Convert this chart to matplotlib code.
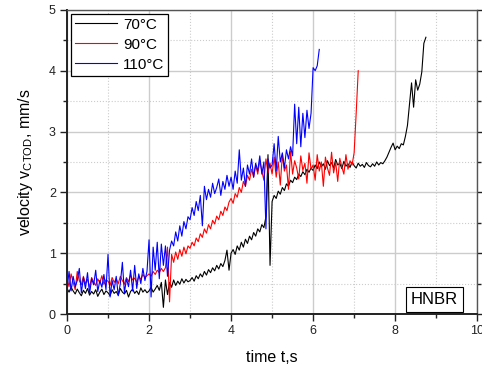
import numpy as np
import matplotlib
matplotlib.use("Agg")
import matplotlib.pyplot as plt
from matplotlib.ticker import MultipleLocator

plt.rcParams['font.family'] = ['Liberation Sans', 'DejaVu Sans']

# sampling step of the measurement, s
DT = 0.05

# 70°C, t = 0 .. 8.75 s
v70 = [
    0.42, 0.36, 0.44, 0.38, 0.33, 0.41, 0.35, 0.30, 0.39, 0.34, 0.42, 0.31, 0.37, 0.33, 0.40, 0.29, 0.36, 0.41, 0.32, 0.38,
    0.35, 0.30, 0.40, 0.34, 0.37, 0.31, 0.42, 0.36, 0.33, 0.39, 0.28, 0.37, 0.41, 0.34, 0.38, 0.32, 0.43, 0.36, 0.40, 0.35,
    0.38, 0.44, 0.36, 0.41, 0.47, 0.39, 0.52, 0.11, 0.56, 0.32, 0.52, 0.44, 0.56, 0.47, 0.54, 0.49, 0.58, 0.51, 0.57, 0.53,
    0.55, 0.60, 0.54, 0.63, 0.58, 0.66, 0.61, 0.70, 0.64, 0.73, 0.68, 0.76, 0.71, 0.80, 0.74, 0.83, 0.78, 0.88, 1.05, 0.72,
    1.00, 1.06, 0.98, 1.12, 1.05, 1.18, 1.10, 1.23, 1.16, 1.28, 1.22, 1.34, 1.28, 1.40, 1.35, 1.47, 1.42, 1.60, 2.62, 0.80,
    1.85, 1.95, 1.90, 2.02, 1.97, 2.08, 2.03, 2.14, 2.10, 2.20, 2.16, 2.25, 2.21, 2.30, 2.26, 2.34, 2.29, 2.38, 2.33, 2.40,
    2.36, 2.45, 2.39, 2.50, 2.42, 2.47, 2.38, 2.52, 2.44, 2.49, 2.40, 2.54, 2.45, 2.48, 2.39, 2.51, 2.43, 2.47, 2.41, 2.50,
    2.44, 2.40, 2.48, 2.43, 2.46, 2.41, 2.49, 2.44, 2.42, 2.47, 2.43, 2.50, 2.45, 2.49, 2.47, 2.52, 2.58, 2.66, 2.74, 2.81,
    2.70, 2.76, 2.72, 2.80, 2.78, 2.92, 3.10, 3.45, 3.80, 3.40, 3.85, 3.68, 3.78, 3.98, 4.45, 4.55,
]

# 90°C, t = 0 .. 7.10 s
v90 = [
    0.58, 0.45, 0.66, 0.52, 0.40, 0.70, 0.55, 0.48, 0.62, 0.50, 0.57, 0.44, 0.60, 0.53, 0.47, 0.58, 0.51, 0.63, 0.49, 0.56,
    0.54, 0.47, 0.60, 0.52, 0.58, 0.50, 0.62, 0.55, 0.49, 0.60, 0.53, 0.64, 0.56, 0.59, 0.52, 0.62, 0.57, 0.65, 0.60, 0.63,
    0.66, 0.62, 0.70, 0.65, 0.72, 0.68, 0.75, 0.70, 0.76, 1.10, 0.20, 0.98, 0.85, 1.02, 0.90, 1.06, 0.95, 1.10, 0.99, 1.12,
    1.08, 1.18, 1.12, 1.25, 1.19, 1.32, 1.26, 1.40, 1.33, 1.47, 1.40, 1.54, 1.48, 1.61, 1.55, 1.69, 1.62, 1.76, 1.70, 1.84,
    1.90, 1.82, 1.98, 1.92, 2.08, 2.00, 2.18, 2.10, 2.28, 2.20, 2.38, 2.25, 2.45, 2.30, 2.52, 2.35, 2.20, 2.55, 2.32, 2.48,
    2.30, 2.58, 2.25, 2.50, 2.12, 2.62, 2.35, 2.45, 2.05, 2.68, 2.30, 2.52, 2.40, 2.22, 2.60, 2.36, 2.48, 2.15, 2.65, 2.38,
    2.45, 2.20, 2.62, 2.35, 2.50, 2.10, 2.58, 2.40, 2.28, 2.66, 2.32, 2.50, 2.18, 2.56, 2.42, 2.30, 2.62, 2.38, 2.52, 2.45,
    2.65, 3.30, 4.00,
]

# 110°C, t = 0 .. 6.15 s
v110 = [
    0.40, 0.70, 0.38, 0.62, 0.45, 0.55, 0.75, 0.35, 0.60, 0.42, 0.68, 0.33, 0.58, 0.48, 0.72, 0.37, 0.55, 0.44, 0.65, 0.40,
    0.98, 0.28, 0.55, 0.40, 0.62, 0.30, 0.50, 0.85, 0.35, 0.58, 0.45, 0.72, 0.38, 0.80, 0.42, 0.66, 0.50, 0.75, 0.55, 0.70,
    1.22, 0.28, 1.10, 0.72, 1.18, 0.58, 1.15, 0.80, 1.12, 0.62, 1.05, 1.20, 1.12, 1.35, 1.20, 1.45, 1.28, 1.52, 1.40, 1.60,
    1.55, 1.75, 1.62, 1.85, 1.70, 1.95, 1.45, 2.10, 1.88, 2.05, 1.92, 2.15, 1.98, 2.08, 2.22, 1.95, 2.18, 2.05, 2.28, 2.10,
    2.25, 2.05, 2.35, 2.15, 2.70, 2.20, 2.40, 2.10, 2.45, 2.30, 2.55, 2.25, 2.48, 2.35, 2.60, 2.30, 2.50, 1.40, 2.55, 2.40,
    2.45, 2.80, 2.35, 2.92, 2.50, 2.65, 2.40, 2.70, 2.55, 2.75, 2.60, 3.45, 2.80, 3.40, 2.75, 3.30, 2.90, 3.35, 3.05, 3.30,
    4.05, 4.00, 4.08, 4.35,
]

series = [("70°C", v70, "black"), ("90°C", v90, "red"), ("110°C", v110, "blue")]

fig = plt.figure(figsize=(4.82, 3.66), dpi=100)
ax = fig.add_axes([0.139, 0.142, 0.851, 0.831])

for label, v, col in series:
    t = np.arange(len(v)) * DT
    ax.plot(t, v, color=col, lw=0.8, label=label)

ax.set_xlim(0, 10)
ax.set_ylim(0, 5)
ax.xaxis.set_major_locator(MultipleLocator(2))
ax.xaxis.set_minor_locator(MultipleLocator(1))
ax.yaxis.set_major_locator(MultipleLocator(1))
ax.yaxis.set_minor_locator(MultipleLocator(0.5))

ax.grid(which='major', color='#cccccc', lw=1.0, ls='-')
ax.grid(which='minor', color='#cccccc', lw=0.8, ls=':')
ax.set_axisbelow(True)

for s in ['left', 'bottom']:
    ax.spines[s].set_color('#222222')
    ax.spines[s].set_linewidth(1.4)
for s in ['right', 'top']:
    ax.spines[s].set_color('#555555')
    ax.spines[s].set_linewidth(1.0)

ax.tick_params(which='major', direction='out', length=5, width=1, labelsize=9,
               colors='#222222', pad=3)
ax.tick_params(which='minor', direction='out', length=3, width=1, colors='#222222')
ax.tick_params(axis='y', which='both', right=True)

ax.set_xlabel('time t,s', fontsize=11.5, labelpad=9)
ax.set_ylabel(r'velocity v$_\mathregular{CTOD}$, mm/s', fontsize=11.5, labelpad=10)

leg = ax.legend(loc='upper left', fontsize=11, frameon=True, fancybox=False,
                edgecolor='black', framealpha=1, borderpad=0.25, labelspacing=0.4,
                handlelength=2.8, handletextpad=0.35, borderaxespad=0.25)
leg.get_frame().set_linewidth(0.9)

ax.text(0.895, 0.047, 'HNBR', transform=ax.transAxes, ha='center', va='center',
        fontsize=12, bbox=dict(boxstyle='square,pad=0.3', fc='white', ec='black', lw=0.8))

fig.savefig('out.png', dpi=100)
